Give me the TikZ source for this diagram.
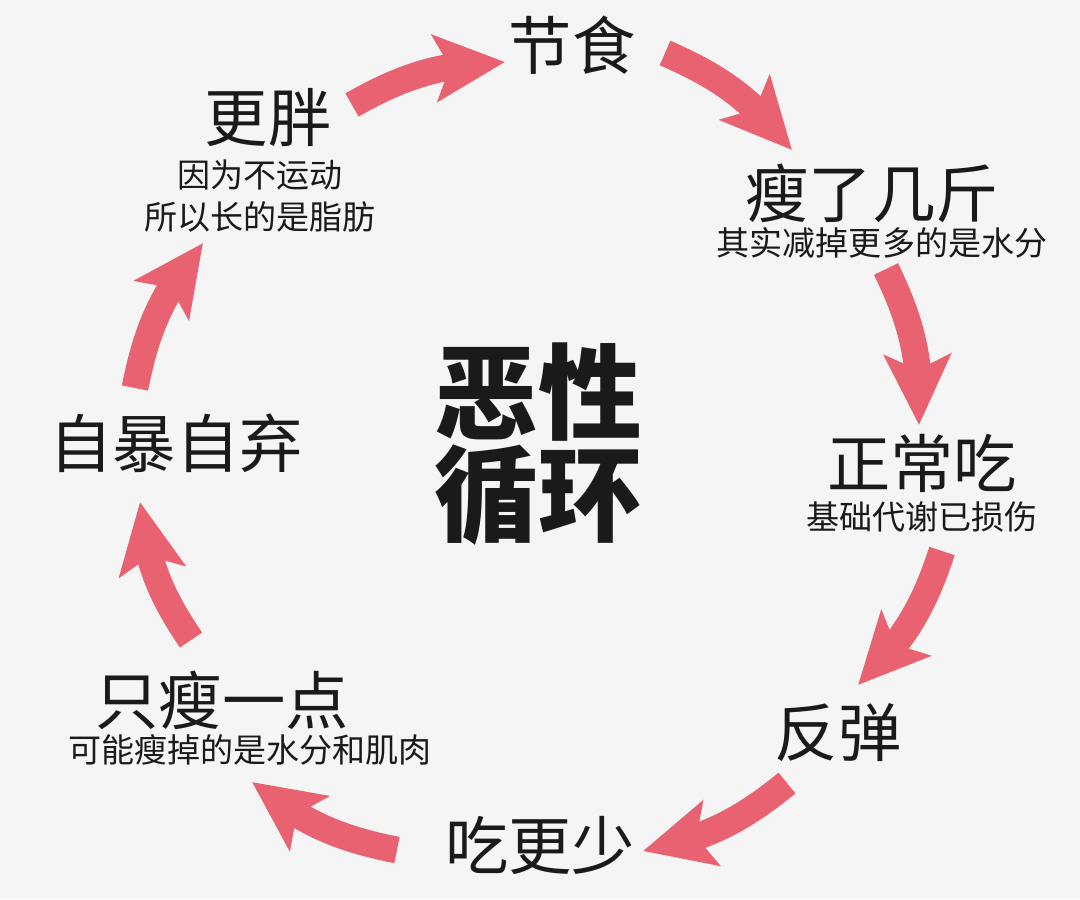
\documentclass[tikz,border=0pt]{standalone}
\usepackage{fontspec}
\setmainfont{Noto Sans CJK SC}
\usetikzlibrary{arrows.meta,bending}

\definecolor{looppink}{RGB}{233,98,114}
\definecolor{paper}{RGB}{245,245,245}
\definecolor{ink}{RGB}{26,26,26}

\tikzset{
  stage/.style={font=\fontsize{18}{20}\selectfont, text=ink, inner sep=0pt},
  note/.style={font=\fontsize{9.4}{11.9}\selectfont, text=ink, inner sep=0pt, align=center},
  turn/.style={line width=7.6pt, looppink,
    -{Stealth[length=0.7cm,width=0.66cm,inset=0.15cm]}},
}

\begin{document}
\begin{tikzpicture}[x=0.01cm,y=0.01cm]
                \fill[paper] (0,0) rectangle (1080,-899);

                \node[font=\fontsize{29.5}{27.5}\selectfont\bfseries, text=ink, align=center, inner sep=0pt] (M) at (538,-444) {恶性\\循环};

                \node[stage] (A) at (572,-45) {节食};
                \node[stage] (B) at (872,-193) {瘦了几斤};
                \node[note] (Bn) at (882,-243) {其实减掉更多的是水分};
                \node[stage] (C) at (922,-463) {正常吃};
                \node[note] (Cn) at (922,-517) {基础代谢已损伤};
                \node[stage] (D) at (838,-733) {反弹};
                \node[stage] (E) at (540,-845) {吃更少};
                \node[stage] (F) at (222,-700) {只瘦一点};
                \node[note] (Fn) at (250,-750) {可能瘦掉的是水分和肌肉};
                \node[stage] (G) at (176,-443) {自暴自弃};
                \node[stage] (H) at (268,-118) {更胖};
                \node[note] (Hn) at (260,-196) {因为不运动\\所以长的是脂肪};

                % arrow ends, tail then tip
                \coordinate (H1) at (352,-105);
                \coordinate (A0) at (505,-62);
                \coordinate (A1) at (665,-53);
                \coordinate (B0) at (792,-150);
                \coordinate (B1) at (886,-269);
                \coordinate (C0) at (919,-425);
                \coordinate (C1) at (942,-551);
                \coordinate (D0) at (858,-685);
                \coordinate (D1) at (787,-783);
                \coordinate (E0) at (643,-851);
                \coordinate (E1) at (397,-850);
                \coordinate (F0) at (252,-782);
                \coordinate (F1) at (191,-640);
                \coordinate (G0) at (140,-502);
                \coordinate (G1) at (135,-388);
                \coordinate (H0) at (203,-243);

                \draw[turn] (H1) to[bend left=14] (A0);
                \draw[turn] (A1) to[bend left=14] (B0);
                \draw[turn] (B1) to[bend left=14] (C0);
                \draw[turn] (C1) to[bend left=14] (D0);
                \draw[turn] (D1) to[bend left=14] (E0);
                \draw[turn] (E1) to[bend left=14] (F0);
                \draw[turn] (F1) to[bend left=14] (G0);
                \draw[turn] (G1) to[bend left=14] (H0);
\end{tikzpicture}
\end{document}
